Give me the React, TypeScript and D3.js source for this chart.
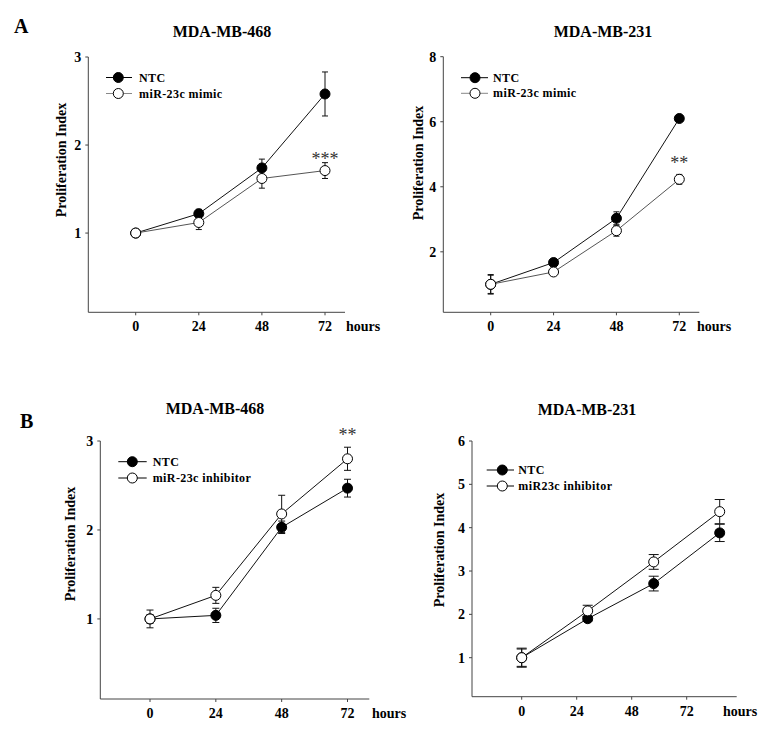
import React from "react";
import * as d3 from "d3";

// ---------- data ----------
const xTickValues = [0, 24, 48, 72];
const timesStd = [0, 24, 48, 72];
const timesB2 = [0, 28.8, 57.6, 86.4];

const a1Ticks = [1, 2, 3];
const a1NTC = [1.0, 1.22, 1.74, 2.58];
const a1NTCErr = [0.03, 0.05, 0.1, 0.25];
const a1Mimic = [1.0, 1.12, 1.62, 1.71];
const a1MimicErr = [0.03, 0.08, 0.11, 0.09];

const a2Ticks = [2, 4, 6, 8];
const a2NTC = [1.0, 1.67, 3.03, 6.1];
const a2NTCErr = [0.3, 0.05, 0.2, 0.05];
const a2Mimic = [1.0, 1.38, 2.65, 4.23];
const a2MimicErr = [0.28, 0.05, 0.17, 0.15];

const b1Ticks = [1, 2, 3];
const b1NTC = [1.0, 1.04, 2.03, 2.47];
const b1NTCErr = [0.05, 0.08, 0.07, 0.1];
const b1Inhib = [1.0, 1.265, 2.18, 2.8];
const b1InhibErr = [0.1, 0.09, 0.21, 0.13];

const b2Ticks = [1, 2, 3, 4, 5, 6];
const b2NTC = [1.0, 1.9, 2.71, 3.88];
const b2NTCErr = [0.2, 0.05, 0.17, 0.2];
const b2Inhib = [1.0, 2.08, 3.21, 4.37];
const b2InhibErr = [0.22, 0.13, 0.17, 0.28];

const FONT = "'Liberation Serif', 'Times New Roman', serif";

type Series = { t: number[]; v: number[]; e: number[]; filled: boolean; stroke: string };

type PanelProps = {
  title: string;
  titleX: number;
  titleY: number;
  xRange: [number, number];
  axisX: [number, number];
  yDomain: [number, number];
  yRange: [number, number];
  yTicks: number[];
  hoursX: number;
  labelX: number;
  labelY: number;
  legend: { x1: number; x2: number; mx: number; y1: number; y2: number; tx: number; names: string[]; strokes: string[] };
  series: Series[];
  cap: number;
  stars?: { text: string; t: number; v: number };
};

function Panel(p: PanelProps) {
  const x = d3.scaleLinear().domain([0, 72]).range(p.xRange);
  const y = d3.scaleLinear().domain(p.yDomain).range(p.yRange);
  const axisY = p.yRange[0];
  const axisTop = p.yRange[1];
  const line = d3
    .line<[number, number]>()
    .x((d) => x(d[0]))
    .y((d) => y(d[1]));
  return (
    <g>
      <text x={p.titleX} y={p.titleY} textAnchor="middle" fontFamily={FONT} fontWeight="bold" fontSize={16}>
        {p.title}
      </text>
      {/* axes */}
      <line x1={p.axisX[0]} x2={p.axisX[0]} y1={axisTop} y2={axisY} stroke="#444" strokeWidth={1} />
      <line x1={p.axisX[0]} x2={p.axisX[1]} y1={axisY} y2={axisY} stroke="#444" strokeWidth={1} />
      {p.yTicks.map((t) => (
        <g key={"y" + t}>
          <line x1={p.axisX[0] - 3} x2={p.axisX[0]} y1={y(t)} y2={y(t)} stroke="#444" />
          <text x={p.axisX[0] - 7} y={y(t) + 5} textAnchor="end" fontFamily={FONT} fontWeight="bold" fontSize={14}>
            {t}
          </text>
        </g>
      ))}
      {xTickValues.map((t) => (
        <g key={"x" + t}>
          <line x1={x(t)} x2={x(t)} y1={axisY} y2={axisY + 3} stroke="#444" />
          <text x={x(t)} y={axisY + 19} textAnchor="middle" fontFamily={FONT} fontWeight="bold" fontSize={14}>
            {t}
          </text>
        </g>
      ))}
      <text x={p.hoursX} y={axisY + 19} fontFamily={FONT} fontWeight="bold" fontSize={14}>
        hours
      </text>
      <text
        transform={`translate(${p.labelX},${p.labelY}) rotate(-90)`}
        textAnchor="middle"
        fontFamily={FONT}
        fontWeight="bold"
        fontSize={14}
      >
        Proliferation Index
      </text>
      {/* series lines */}
      {p.series.map((s, i) => (
        <path
          key={"l" + i}
          d={line(s.t.map((t, j) => [t, s.v[j]]) as [number, number][]) || ""}
          fill="none"
          stroke={s.stroke}
          strokeWidth={1}
        />
      ))}
      {/* error bars */}
      {p.series.map((s, i) =>
        s.t.map((t, j) => (
          <g key={"e" + i + "-" + j} stroke="#111" strokeWidth={1}>
            <line x1={x(t)} x2={x(t)} y1={y(s.v[j] - s.e[j])} y2={y(s.v[j] + s.e[j])} />
            <line x1={x(t) - p.cap} x2={x(t) + p.cap} y1={y(s.v[j] + s.e[j])} y2={y(s.v[j] + s.e[j])} />
            <line x1={x(t) - p.cap} x2={x(t) + p.cap} y1={y(s.v[j] - s.e[j])} y2={y(s.v[j] - s.e[j])} />
          </g>
        ))
      )}
      {/* markers */}
      {p.series.map((s, i) =>
        s.t.map((t, j) => (
          <circle
            key={"m" + i + "-" + j}
            cx={x(t)}
            cy={y(s.v[j])}
            r={5}
            fill={s.filled ? "#000" : "#fff"}
            stroke="#000"
            strokeWidth={1}
          />
        ))
      )}
      {p.stars && (
        <text
          x={x(p.stars.t)}
          y={y(p.stars.v)}
          textAnchor="middle"
          fontFamily={FONT}
          fontSize={18}
          fill="#333"
        >
          {p.stars.text}
        </text>
      )}
      {/* legend */}
      {[p.legend.y1, p.legend.y2].map((ly, i) => (
        <g key={"lg" + i}>
          <line x1={p.legend.x1} x2={p.legend.x2} y1={ly} y2={ly} stroke={p.legend.strokes[i]} strokeWidth={1} />
          <circle cx={p.legend.mx} cy={ly} r={5} fill={i === 0 ? "#000" : "#fff"} stroke="#000" />
          <text x={p.legend.tx} y={ly + 4} fontFamily={FONT} fontWeight="bold" fontSize={12} letterSpacing={0.4}>
            {p.legend.names[i]}
          </text>
        </g>
      ))}
    </g>
  );
}

export default function App() {
  return (
    <svg width={773} height={733} style={{ display: "block", position: "absolute", left: 0, top: 0, background: "#fff" }}>
      <rect width={773} height={733} fill="#fff" />
      <text x={14} y={33} fontFamily={FONT} fontWeight="bold" fontSize={20}>A</text>
      <text x={20} y={428} fontFamily={FONT} fontWeight="bold" fontSize={20}>B</text>
      <Panel
        title="MDA-MB-468"
        titleX={222}
        titleY={37}
        xRange={[135.7, 325]}
        axisX={[88.3, 345]}
        yDomain={[0.1, 3]}
        yRange={[312.3, 57]}
        yTicks={a1Ticks}
        hoursX={346}
        labelX={66}
        labelY={160}
        cap={3}
        legend={{ x1: 106, x2: 132, mx: 118.3, y1: 77.5, y2: 93.5, tx: 139, names: ["NTC", "miR-23c mimic"], strokes: ["#000", "#888"] }}
        series={[
          { t: timesStd, v: a1NTC, e: a1NTCErr, filled: true, stroke: "#111" },
          { t: timesStd, v: a1Mimic, e: a1MimicErr, filled: false, stroke: "#555" },
        ]}
        stars={{ text: "***", t: 72, v: 1.77 }}
      />
      <Panel
        title="MDA-MB-231"
        titleX={603}
        titleY={37}
        xRange={[490.7, 679.3]}
        axisX={[443.3, 699.3]}
        yDomain={[0.14, 8]}
        yRange={[312.3, 56.7]}
        yTicks={a2Ticks}
        hoursX={697}
        labelX={423}
        labelY={163}
        cap={3}
        legend={{ x1: 461, x2: 488, mx: 475, y1: 77.7, y2: 93.3, tx: 493, names: ["NTC", "miR-23c mimic"], strokes: ["#000", "#888"] }}
        series={[
          { t: timesStd, v: a2NTC, e: a2NTCErr, filled: true, stroke: "#111" },
          { t: timesStd, v: a2Mimic, e: a2MimicErr, filled: false, stroke: "#555" },
        ]}
        stars={{ text: "**", t: 72, v: 4.55 }}
      />
      <Panel
        title="MDA-MB-468"
        titleX={215}
        titleY={414}
        xRange={[150, 347.5]}
        axisX={[100.3, 369.3]}
        yDomain={[0.1, 3]}
        yRange={[699, 441]}
        yTicks={b1Ticks}
        hoursX={372}
        labelX={75}
        labelY={544}
        cap={3.5}
        legend={{ x1: 118.3, x2: 146.7, mx: 132.3, y1: 461.7, y2: 478, tx: 152.7, names: ["NTC", "miR-23c inhibitor"], strokes: ["#000", "#000"] }}
        series={[
          { t: timesStd, v: b1NTC, e: b1NTCErr, filled: true, stroke: "#111" },
          { t: timesStd, v: b1Inhib, e: b1InhibErr, filled: false, stroke: "#111" },
        ]}
        stars={{ text: "**", t: 72, v: 3.0 }}
      />
      <Panel
        title="MDA-MB-231"
        titleX={587}
        titleY={415}
        xRange={[521.7, 686.7]}
        axisX={[472, 736.7]}
        yDomain={[0.1, 6]}
        yRange={[696.7, 441]}
        yTicks={b2Ticks}
        hoursX={723}
        labelX={444}
        labelY={550}
        cap={5}
        legend={{ x1: 486.7, x2: 514, mx: 502.3, y1: 470, y2: 486, tx: 518.3, names: ["NTC", "miR23c inhibitor"], strokes: ["#000", "#000"] }}
        series={[
          { t: timesB2, v: b2NTC, e: b2NTCErr, filled: true, stroke: "#111" },
          { t: timesB2, v: b2Inhib, e: b2InhibErr, filled: false, stroke: "#111" },
        ]}
      />
    </svg>
  );
}
